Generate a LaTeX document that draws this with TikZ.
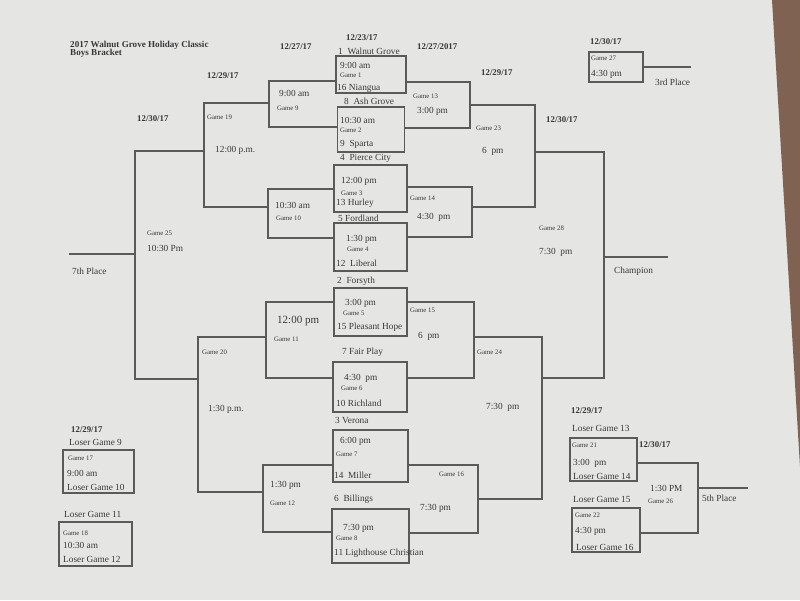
\documentclass[tikz,border=0pt]{standalone}
\usepackage{fontspec}
\setmainfont{Liberation Serif}
\definecolor{paper}{RGB}{229,230,228}
\definecolor{table}{RGB}{128,98,82}
\definecolor{ink}{RGB}{55,55,55}
\definecolor{rule}{RGB}{90,90,90}
\tikzset{
  lbl/.style={anchor=west, inner sep=0pt, text=ink, font=\fontsize{9.3}{10}\selectfont},
  gm/.style={lbl, font=\fontsize{6.8}{8}\selectfont},
  dt/.style={lbl, font=\bfseries\fontsize{8.8}{10}\selectfont},
  big/.style={lbl, font=\fontsize{11}{12}\selectfont},
  gbox/.style={draw=rule, line width=1.3pt, rectangle, inner sep=0pt},
  br/.style={draw=rule, line width=1.3pt}
}
\newcommand\T[4]{\node[#1] (#2) at (#3) {#4};}
\newcommand\B[5]{\node[gbox, minimum width=#3pt, minimum height=#4pt] (#1) at (#2) {};}
\begin{document}
\begin{tikzpicture}[x=1pt,y=-1pt]
\useasboundingbox (0,0) rectangle (800,600);
\fill[paper] (0,0) rectangle (800,600);
\fill[table] (772,0) -- (800,0) -- (800,467) -- cycle;

% boxes
\B{b1}{371,74.5}{70}{37}{}
\B{b2}{371,129.5}{67}{45}{}
\B{b3}{370.5,188.5}{73}{47}{}
\B{b4}{370.5,247}{73}{48}{}
\B{b5}{370.5,312}{73}{48}{}
\B{b6}{370,387}{74}{50}{}
\B{b7}{370.5,456}{75}{52}{}
\B{b8}{370.5,536}{77}{54}{}
\B{b17}{98.5,471.5}{71}{43}{}
\B{b18}{95.5,544}{73}{44}{}
\B{b21}{603.5,459.5}{67}{43}{}
\B{b22}{606,530}{68}{44}{}
\B{b27}{616,67}{54}{30}{}

% bracket coordinates (outputs)
\coordinate (g9) at (269,103);
\coordinate (g10) at (268,207);
\coordinate (g19) at (204,151);
\coordinate (g11) at (266,337);
\coordinate (g12) at (263,492);
\coordinate (g20) at (198,379);
\coordinate (g25) at (135,254);
\coordinate (p7) at (69,254);
\coordinate (g13) at (470,105);
\coordinate (g14) at (472,207);
\coordinate (g23) at (535,152);
\coordinate (g15) at (474,337);
\coordinate (g16) at (478,499);
\coordinate (g24) at (542,378);
\coordinate (g28) at (604,257);
\coordinate (pc) at (668,257);
\coordinate (p3) at (691,67);
\coordinate (g26) at (698,488);
\coordinate (p5) at (748,488);

% left brackets
\draw[br] (b1.west |- 0,81) -| (g9) |- (b2.west |- 0,127);
\draw[br] (b3.west |- 0,189) -| (g10) |- (b4.west |- 0,238);
\draw[br] (b5.west |- 0,302) -| (g11) |- (b6.west |- 0,378);
\draw[br] (b7.west |- 0,465) -| (g12) |- (b8.west |- 0,532);
\draw[br] (g9) -| (g19) |- (g10);
\draw[br] (g11) -| (g20) |- (g12);
\draw[br] (g19) -| (g25) |- (g20);
\draw[br] (g25) -- (p7);
% right brackets
\draw[br] (b1.east |- 0,82) -| (g13) |- (b2.east |- 0,128);
\draw[br] (b3.east |- 0,187) -| (g14) |- (b4.east |- 0,237);
\draw[br] (b5.east |- 0,302) -| (g15) |- (b6.east |- 0,378);
\draw[br] (b7.east |- 0,465) -| (g16) |- (b8.east |- 0,533);
\draw[br] (g13) -| (g23) |- (g14);
\draw[br] (g15) -| (g24) |- (g16);
\draw[br] (g23) -| (g28) |- (g24);
\draw[br] (g28) -- (pc);
\draw[br] (b27.east) -- (p3);
\draw[br] (b21.east |- 0,463) -| (g26) |- (b22.east |- 0,533);
\draw[br] (g26) -- (p5);

% title and dates
\node[dt, font=\bfseries\fontsize{9.1}{10}\selectfont] (title1) at (70,45) {2017 Walnut Grove Holiday Classic};
\node[dt, font=\bfseries\fontsize{9.1}{10}\selectfont] (title2) at (70,53) {Boys Bracket};
\T{dt}{d1}{280,47}{12/27/17}
\T{dt}{d2}{346,38}{12/23/17}
\T{dt}{d3}{417,47}{12/27/2017}
\T{dt}{d4}{207,76}{12/29/17}
\T{dt}{d5}{137,119}{12/30/17}
\T{dt}{d6}{481,73}{12/29/17}
\T{dt}{d7}{546,120}{12/30/17}
\T{dt}{d8}{590,42}{12/30/17}
\T{dt}{d9}{71,430}{12/29/17}
\T{dt}{d10}{571,411}{12/29/17}
\T{dt}{d11}{639,445}{12/30/17}

% teams
\T{lbl}{s1}{338,51}{1\ \ Walnut Grove}
\T{lbl}{s16}{337,88}{16 Niangua}
\T{lbl}{s8}{344,101}{8\ \ Ash Grove}
\T{lbl}{s9}{340,144}{9\ \ Sparta}
\T{lbl}{s4}{340,158.5}{4\ \ Pierce City}
\T{lbl}{s13}{336,203}{13 Hurley}
\T{lbl}{s5}{338,218}{5 Fordland}
\T{lbl}{s12}{336,263}{12\ \ Liberal}
\T{lbl}{s2}{337,281}{2\ \ Forsyth}
\T{lbl}{s15}{337,327}{15 Pleasant Hope}
\T{lbl}{s7}{342,352}{7 Fair Play}
\T{lbl}{s10}{336,403}{10 Richland}
\T{lbl}{s3}{335,420}{3 Verona}
\T{lbl}{s14}{334,475}{14\ \ Miller}
\T{lbl}{s6}{334,499}{6\ \ Billings}
\T{lbl}{s11}{334,553}{11 Lighthouse Christian}

% first round games
\T{lbl}{t1}{340,65}{9:00 am}   \T{gm}{n1}{340,75}{Game 1}
\T{lbl}{t2}{340,120}{10:30 am} \T{gm}{n2}{340,130}{Game 2}
\T{lbl}{t3}{341,181}{12:00 pm} \T{gm}{n3}{341,193}{Game 3}
\T{lbl}{t4}{346,239}{1:30 pm}  \T{gm}{n4}{347,249}{Game 4}
\T{lbl}{t5}{345,303}{3:00 pm}  \T{gm}{n5}{343,313}{Game 5}
\T{lbl}{t6}{344,378}{4:30\ \ pm} \T{gm}{n6}{341,388}{Game 6}
\T{lbl}{t7}{340,441}{6:00 pm}  \T{gm}{n7}{336,454}{Game 7}
\T{lbl}{t8}{343,528}{7:30 pm}  \T{gm}{n8}{336,538}{Game 8}

% left side games
\T{lbl}{t9}{279,93}{9:00 am}    \T{gm}{n9}{277,108}{Game 9}
\T{lbl}{t10}{275,205}{10:30 am} \T{gm}{n10}{276,218}{Game 10}
\T{gm}{n19}{207,117}{Game 19}   \T{lbl}{t19}{215,150}{12:00 p.m.}
\T{gm}{n25}{147,233}{Game 25}   \T{lbl}{t25}{147,248}{10:30 Pm}
\T{lbl}{l7}{72,271}{7th Place}
\T{big}{t11}{277,321}{12:00 pm} \T{gm}{n11}{274,339}{Game 11}
\T{gm}{n20}{202,352}{Game 20}   \T{lbl}{t20}{208,409}{1:30 p.m.}
\T{lbl}{t12}{270,485}{1:30 pm}  \T{gm}{n12}{270,503}{Game 12}

% right side games
\T{gm}{n13}{413,96}{Game 13}  \T{lbl}{t13}{417,111}{3:00 pm}
\T{gm}{n23}{476,128}{Game 23} \T{lbl}{t23}{482,151}{6\ \ pm}
\T{gm}{n14}{410,198}{Game 14} \T{lbl}{t14}{417,217}{4:30\ \ pm}
\T{gm}{n28}{539,228}{Game 28} \T{lbl}{t28}{539,252}{7:30\ \ pm}
\T{lbl}{lc}{614,271}{Champion}
\T{gm}{n27}{591,58}{Game 27}  \T{lbl}{t27}{591,74}{4:30 pm}
\T{lbl}{l3}{655,82}{3rd Place}
\T{gm}{n15}{410,310}{Game 15} \T{lbl}{t15}{418,336}{6\ \ pm}
\T{gm}{n24}{477,352}{Game 24} \T{lbl}{t24}{486,407}{7:30\ \ pm}
\T{gm}{n16}{439,474}{Game 16} \T{lbl}{t16}{420,508}{7:30 pm}

% consolation left
\T{lbl}{c1}{69,442}{Loser Game 9}
\T{gm}{n17}{68,458}{Game 17} \T{lbl}{t17}{67,473}{9:00 am} \T{lbl}{c2}{67,487}{Loser Game 10}
\T{lbl}{c3}{64,514}{Loser Game 11}
\T{gm}{n18}{63,533}{Game 18} \T{lbl}{t18}{63,545}{10:30 am} \T{lbl}{c4}{63,559}{Loser Game 12}

% consolation right
\T{lbl}{c5}{572,428}{Loser Game 13}
\T{gm}{n21}{572,445}{Game 21} \T{lbl}{t21}{573,463}{3:00\ \ pm} \T{lbl}{c6}{573,476}{Loser Game 14}
\T{lbl}{c7}{573,499}{Loser Game 15}
\T{gm}{n22}{575,515}{Game 22} \T{lbl}{t22}{575,531}{4:30 pm} \T{lbl}{c8}{576,547}{Loser Game 16}
\T{lbl}{t26}{650,488}{1:30 PM} \T{gm}{n26}{648,501}{Game 26}
\T{lbl}{l5}{702,498}{5th Place}
\end{tikzpicture}
\end{document}
